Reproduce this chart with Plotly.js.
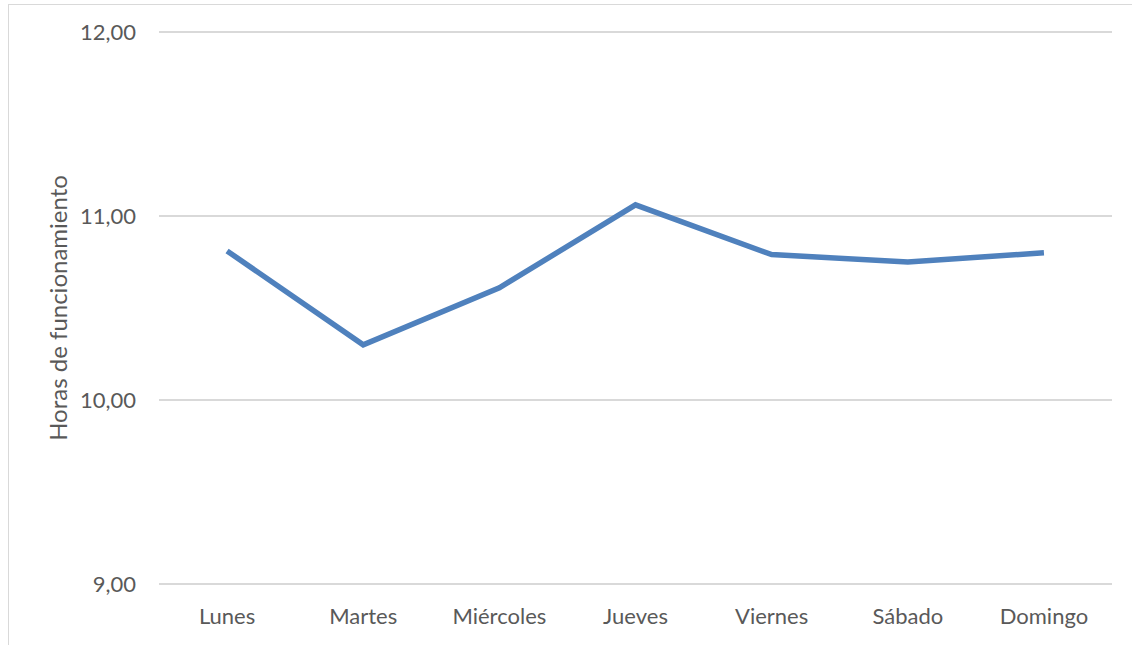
<!DOCTYPE html>
<html>
<head>
<meta charset="utf-8">
<script src="https://cdn.plot.ly/plotly-3.0.1.min.js"></script>
<style>
html,body{margin:0;padding:0;background:#fff;}
#chart{width:1132px;height:645px;position:absolute;left:0;top:0;}
#frame{position:absolute;left:8px;top:4px;width:1140px;height:680px;border:1px solid #d9d9d9;pointer-events:none;}
</style>
</head>
<body>
<div id="chart"></div>
<div id="frame"></div>
<script>
const days = ["Lunes","Martes","Miércoles","Jueves","Viernes","Sábado","Domingo"];
const hours = [10.81, 10.30, 10.61, 11.06, 10.79, 10.75, 10.80];
const yTicks = [9, 10, 11, 12];
const yTitle = "Horas de funcionamiento";

const font = "Lato, Open Sans, sans-serif";
Plotly.newPlot('chart', [{
  x: days, y: hours, type: 'scatter', mode: 'lines',
  line: {color: '#4f81bd', width: 5.5, shape: 'linear'},
  hoverinfo: 'x+y'
}], {
  width: 1132, height: 645,
  margin: {l: 159, r: 20, t: 30, b: 59, pad: 0},
  paper_bgcolor: '#ffffff', plot_bgcolor: '#ffffff',
  separators: ',.',
  showlegend: false,
  font: {family: font, color: '#595959', size: 22},
  xaxis: {
    type: 'category', range: [-0.5, 6.5],
    showgrid: false, zeroline: false, showline: false, ticks: '',
    ticklabelstandoff: 15,
    tickfont: {family: font, size: 22, color: '#595959'}
  },
  yaxis: {
    range: [8.99, 12.01], tickvals: yTicks, tickformat: '.2f',
    showgrid: true, gridcolor: '#d9d9d9', gridwidth: 1.5,
    zeroline: false, showline: false, ticks: '',
    ticklabelstandoff: 22,
    tickfont: {family: font, size: 22, color: '#595959'},
    title: {text: yTitle, font: {family: font, size: 24, color: '#595959'}, standoff: 5}
  }
}, {displayModeBar: false, staticPlot: true});
</script>
</body>
</html>
